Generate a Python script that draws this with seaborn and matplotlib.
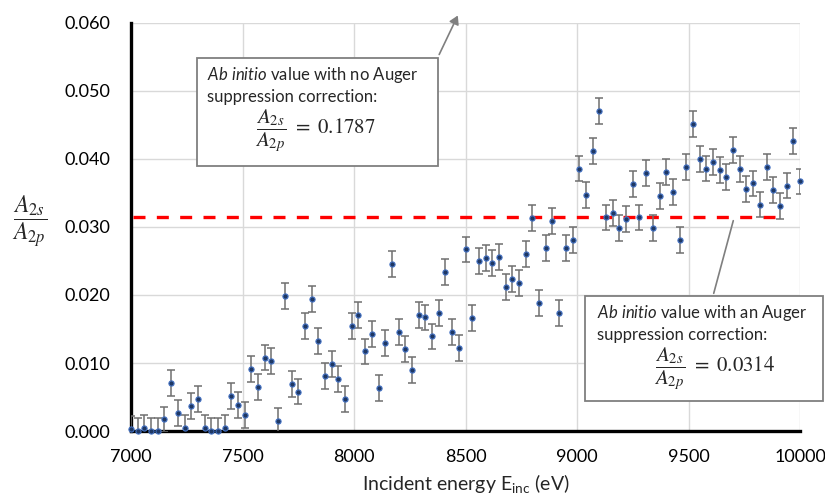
import numpy as np
import pandas as pd
import matplotlib
matplotlib.use("Agg")
import matplotlib.pyplot as plt
from matplotlib.patches import Rectangle, FancyArrowPatch
from matplotlib.ticker import FormatStrFormatter
import seaborn as sns

# ---------------- data ----------------
energy = [7000, 7030, 7060, 7090, 7120, 7150, 7180, 7210, 7240, 7270,
          7300, 7330, 7360, 7390, 7420, 7450, 7480, 7510, 7540, 7570,
          7600, 7630, 7660, 7690, 7720, 7750, 7780, 7810, 7840, 7870,
          7900, 7930, 7960, 7990, 8020, 8050, 8080, 8110, 8140, 8170,
          8200, 8230, 8260, 8290, 8320, 8350, 8380, 8410, 8440, 8470,
          8500, 8530, 8560, 8590, 8620, 8650, 8680, 8710, 8740, 8770,
          8800, 8830, 8860, 8890, 8920, 8950, 8980, 9010, 9040, 9070,
          9100, 9130, 9160, 9190, 9220, 9250, 9280, 9310, 9340, 9370,
          9400, 9430, 9460, 9490, 9520, 9550, 9580, 9610, 9640, 9670,
          9700, 9730, 9760, 9790, 9820, 9850, 9880, 9910, 9940, 9970,
          10000]
ratio = [0.0003, 0.0000, 0.0004, 0.0000, 0.0000, 0.0017, 0.0070, 0.0027, 0.0004, 0.0037,
         0.0047, 0.0004, 0.0000, 0.0000, 0.0005, 0.0051, 0.0038, 0.0023, 0.0091, 0.0065,
         0.0108, 0.0103, 0.0015, 0.0198, 0.0069, 0.0058, 0.0155, 0.0194, 0.0132, 0.0081,
         0.0099, 0.0077, 0.0047, 0.0155, 0.0170, 0.0117, 0.0143, 0.0063, 0.0130, 0.0246,
         0.0146, 0.0120, 0.0090, 0.0170, 0.0167, 0.0139, 0.0174, 0.0234, 0.0145, 0.0122,
         0.0267, 0.0166, 0.0250, 0.0255, 0.0247, 0.0256, 0.0212, 0.0223, 0.0218, 0.0260,
         0.0313, 0.0188, 0.0269, 0.0309, 0.0173, 0.0269, 0.0281, 0.0386, 0.0347, 0.0412,
         0.0470, 0.0314, 0.0320, 0.0298, 0.0312, 0.0363, 0.0314, 0.0379, 0.0298, 0.0346,
         0.0381, 0.0351, 0.0281, 0.0388, 0.0452, 0.0400, 0.0386, 0.0396, 0.0384, 0.0373,
         0.0413, 0.0385, 0.0356, 0.0364, 0.0333, 0.0388, 0.0355, 0.0331, 0.0361, 0.0426,
         0.0367]
ratio_err = 0.0019

ref_corrected = 0.0314
ref_line_start = 7010
ref_line_end = 9925

x_ticks = [7000, 7500, 8000, 8500, 9000, 9500, 10000]
y_ticks = [0.000, 0.010, 0.020, 0.030, 0.040, 0.050, 0.060]

df = pd.DataFrame({"energy": energy, "ratio": ratio})

# ---------------- style ----------------
sns.set_theme(style="white")
plt.rcParams["font.family"] = ["Lato", "DejaVu Sans"]
plt.rcParams["mathtext.fontset"] = "custom"
plt.rcParams["mathtext.rm"] = "Lato"
plt.rcParams["mathtext.it"] = "Lato:italic"
plt.rcParams["mathtext.bf"] = "Lato:bold"

W, H = 825, 499
fig = plt.figure(figsize=(W / 100, H / 100), dpi=100)
fig.patch.set_facecolor("white")


def px(x, y):
    return (x / W, 1 - y / H)


ax = fig.add_axes([131 / W, 1 - 431 / H, (800 - 131) / W, (431 - 23) / H])

ax.set_xlim(7000, 10000)
ax.set_ylim(0, 0.060)
ax.set_xticks(x_ticks)
ax.set_yticks(y_ticks)
ax.yaxis.set_major_formatter(FormatStrFormatter("%.3f"))
ax.grid(True, color="#d9d9d9", linewidth=1.0, zorder=0)
ax.set_axisbelow(True)

for s in ["top", "right"]:
    ax.spines[s].set_visible(False)
for s in ["left", "bottom"]:
    ax.spines[s].set_color("black")
    ax.spines[s].set_linewidth(2.4)
    ax.spines[s].set_zorder(2)

ax.tick_params(axis="both", length=0, labelsize=13, colors="black")
ax.tick_params(axis="y", pad=15)
ax.tick_params(axis="x", pad=13)

# reference dashed line
ax.hlines(ref_corrected, ref_line_start, ref_line_end, colors="#ff0000",
          linewidth=2.4, linestyles=(0, (3.6, 3.4)), zorder=3)

# error bars
ax.errorbar(df["energy"], df["ratio"], yerr=ratio_err, fmt="none",
            ecolor="#6f6f6f", elinewidth=1.1, capsize=2.6, capthick=1.1, zorder=4)

# points
sns.scatterplot(data=df, x="energy", y="ratio", ax=ax, s=14, marker="o",
                color="#1f3864", edgecolor="#4472c4", linewidth=0.8,
                zorder=5, clip_on=False, legend=False)

ax.set_xlabel("Incident energy E$_{\\mathrm{inc}}$ (eV)", fontsize=14, labelpad=5)
ax.set_ylabel("")
fig.text(*px(30, 222), r"$\dfrac{A_{2s}}{A_{2p}}$", fontsize=17,
         math_fontfamily="stix", ha="center", va="center")

# ---------------- annotation box 1 ----------------
bx0, by0, bx1, by1 = 197, 58, 438, 166
fig.patches.append(Rectangle(px(bx0, by1), (bx1 - bx0) / W, (by1 - by0) / H,
                             transform=fig.transFigure, facecolor="white",
                             edgecolor="#7f7f7f", linewidth=1.3, zorder=10))
fig.text(*px(207, 75), r"$\mathit{Ab\ initio}$ value with no Auger", fontsize=12,
         ha="left", va="center", zorder=11)
fig.text(*px(207, 97), "suppression correction:", fontsize=12,
         ha="left", va="center", zorder=11)
fig.text(*px(315, 131), r"$\dfrac{A_{2s}}{A_{2p}}\ =\ 0.1787$", fontsize=15,
         math_fontfamily="stix", ha="center", va="center", zorder=11)
arr1 = FancyArrowPatch(px(438, 57), px(459, 13), transform=fig.transFigure,
                       arrowstyle="-|>,head_length=5,head_width=3",
                       color="#7f7f7f", linewidth=1.2, zorder=10)
fig.patches.append(arr1)

# ---------------- annotation box 2 ----------------
cx0, cy0, cx1, cy1 = 585, 296, 823, 401
fig.patches.append(Rectangle(px(cx0, cy1), (cx1 - cx0) / W, (cy1 - cy0) / H,
                             transform=fig.transFigure, facecolor="white",
                             edgecolor="#7f7f7f", linewidth=1.3, zorder=10))
fig.text(*px(597, 313), r"$\mathit{Ab\ initio}$ value with an Auger", fontsize=12,
         ha="left", va="center", zorder=11)
fig.text(*px(597, 335), "suppression correction:", fontsize=12,
         ha="left", va="center", zorder=11)
fig.text(*px(715, 369), r"$\dfrac{A_{2s}}{A_{2p}}\ =\ 0.0314$", fontsize=15,
         math_fontfamily="stix", ha="center", va="center", zorder=11)
arr2 = FancyArrowPatch(px(713, 296), px(734, 218), transform=fig.transFigure,
                       arrowstyle="-", color="#7f7f7f", linewidth=1.2, zorder=10)
fig.patches.append(arr2)

fig.savefig("out.png", dpi=100)
